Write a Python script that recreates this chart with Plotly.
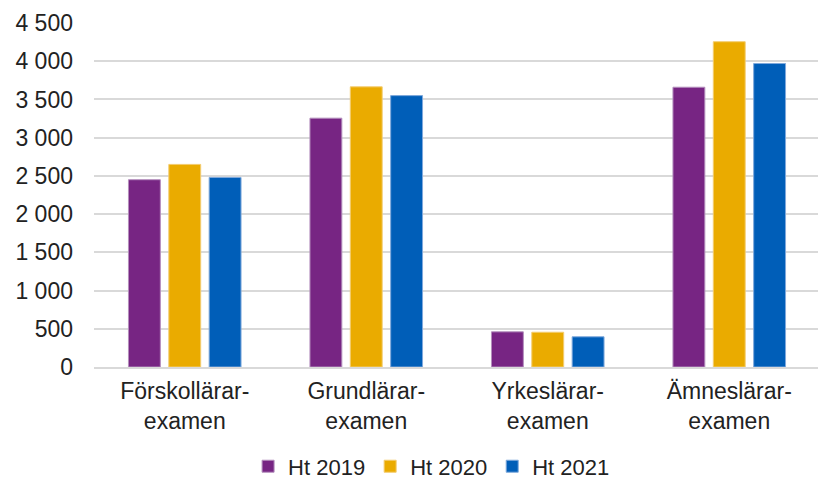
import plotly.graph_objects as go

# Examina per lärarexamen, höstterminer
kategorier = ["Förskollärar-<br>examen", "Grundlärar-<br>examen", "Yrkeslärar-<br>examen", "Ämneslärar-<br>examen"]
ht_2019 = [2450, 3255, 460, 3660]
ht_2020 = [2650, 3665, 455, 4255]
ht_2021 = [2480, 3550, 395, 3970]

serier = ["Ht 2019", "Ht 2020", "Ht 2021"]
farger = ["#772583", "#EAAB00", "#005EB8"]
kanter = ["#b48fbd", "#f3cc70", "#7fa9dc"]

fig = go.Figure()
for namn, varden, farg, kant in zip(serier, [ht_2019, ht_2020, ht_2021], farger, kanter):
    fig.add_trace(go.Bar(
        x=kategorier,
        y=varden,
        name=namn,
        marker=dict(color=farg, line=dict(color=kant, width=1)),
    ))

# sidan har 8 px marginal i body, därför lite mindre figur
fig.update_layout(
    width=818,
    height=474,
    barmode="group",
    bargap=0.333,
    bargroupgap=0.21,
    separators=", ",
    paper_bgcolor="white",
    plot_bgcolor="white",
    font=dict(family="Liberation Sans, Arial", size=23, color="#222222"),
    margin=dict(l=86, r=6, t=15, b=115, autoexpand=False),
    legend=dict(
        orientation="h",
        x=0.465,
        xanchor="center",
        y=-0.228,
        yanchor="top",
        font=dict(size=22),
        itemwidth=30,
        tracegroupgap=0,
        traceorder="normal",
    ),
    showlegend=True,
)

fig.update_yaxes(
    range=[0, 4500],
    dtick=500,
    tickformat=",d",
    showgrid=True,
    gridcolor="#d9d9d9",
    gridwidth=1.5,
    zeroline=False,
    showline=False,
    ticks="",
    ticklabelstandoff=20,
)
fig.update_xaxes(
    showline=True,
    linecolor="#d9d9d9",
    linewidth=1.5,
    ticks="",
    tickangle=0,
    ticklabelstandoff=3,
)

fig.write_html("out.html")
